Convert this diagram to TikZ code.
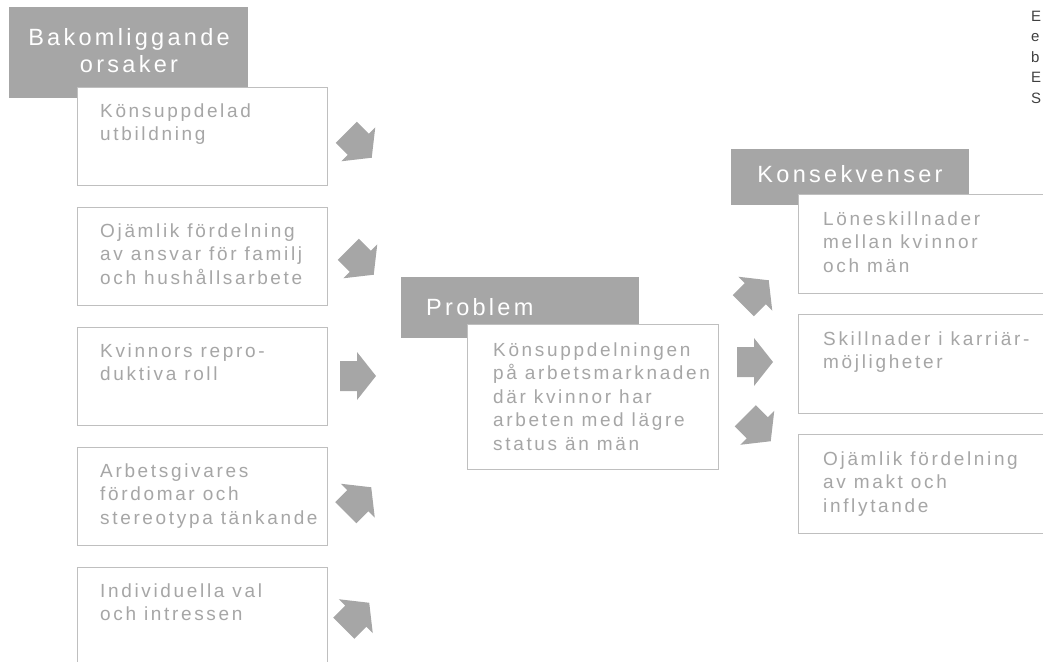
\documentclass[tikz,border=0pt]{standalone}
\usepackage{fontspec}
\setmainfont{Liberation Sans}[LetterSpace=14]
\newfontfamily\sidefont{Liberation Sans}
\definecolor{hdrgray}{HTML}{A6A6A6}
\definecolor{boxline}{HTML}{BFBFBF}
\definecolor{boxtext}{HTML}{A6A6A6}
\definecolor{sidetext}{HTML}{404040}
\tikzset{
  hdrbox/.style={fill=hdrgray, draw=none, rectangle, inner sep=0pt, anchor=north west},
  hdrtext/.style={text=white, font=\fontsize{23.5}{28}\selectfont, inner sep=0pt, align=center},
  itembox/.style={fill=white, draw=boxline, line width=1pt, rectangle, inner sep=0pt, anchor=north west},
  itemtext/.style={text=boxtext, font=\fontsize{19}{23.5}\selectfont, inner sep=0pt, align=left, anchor=base west},
  arrowfill/.style={fill=hdrgray},
  blockarrow/.pic={\fill[arrowfill] (-18,-15) -- (-1,-15) -- (-1,-24) -- (18,0) -- (-1,24) -- (-1,15) -- (-18,15) -- cycle;}
}
\begin{document}
\begin{tikzpicture}[x=1pt,y=-1pt]
\useasboundingbox (0,0) rectangle (1043,661);
\clip (0,0) rectangle (1043,661);
% headers
\node[hdrbox, minimum width=239, minimum height=91] (hA) at (9,7) {};
\node[hdrbox, minimum width=238, minimum height=61] (hB) at (401,277) {};
\node[hdrbox, minimum width=238, minimum height=56] (hC) at (731,149) {};
\node[hdrtext, anchor=base] (hAt) at (129,73) {Bakomliggande\\orsaker};
\node[hdrtext, anchor=base west] (hBt) at (426,315) {Problem};
\node[hdrtext, anchor=base] (hCt) at (850,182) {Konsekvenser};
% left boxes
\node[itembox, minimum width=250, minimum height=98] (c1) at (77,87) {};
\node[itembox, minimum width=250, minimum height=98] (c2) at (77,207) {};
\node[itembox, minimum width=250, minimum height=98] (c3) at (77,327) {};
\node[itembox, minimum width=250, minimum height=98] (c4) at (77,447) {};
\node[itembox, minimum width=250, minimum height=110] (c5) at (77,567) {};
\node[itemtext] (c1t) at (100,140.5) {Könsuppdelad\\utbildning};
\node[itemtext] (c2t) at (100,284) {Ojämlik fördelning\\av ansvar för familj\\och hushållsarbete};
\node[itemtext] (c3t) at (100,380.5) {Kvinnors repro-\\duktiva roll};
\node[itemtext] (c4t) at (100,524) {Arbetsgivares\\fördomar och\\stereotypa tänkande};
\node[itemtext] (c5t) at (100,620.5) {Individuella val\\och intressen};
% problem box
\node[itembox, minimum width=251, minimum height=145] (p) at (467,324) {};
\node[itemtext] (pt) at (493,450) {Könsuppdelningen\\på arbetsmarknaden\\där kvinnor har\\arbeten med lägre\\status än män};
% consequence boxes
\node[itembox, minimum width=260, minimum height=99] (k1) at (798,194) {};
\node[itembox, minimum width=260, minimum height=99] (k2) at (798,314) {};
\node[itembox, minimum width=260, minimum height=99] (k3) at (798,434) {};
\node[itemtext] (k1t) at (823,272) {Löneskillnader\\mellan kvinnor\\och män};
\node[itemtext] (k2t) at (823,368.5) {Skillnader i karriär-\\möjligheter};
\node[itemtext] (k3t) at (823,512) {Ojämlik fördelning\\av makt och\\inflytande};
% arrows
\pic[rotate=-45] at (359,145) {blockarrow};
\pic[rotate=-45] at (361,262) {blockarrow};
\pic at (358,376) {blockarrow};
\pic[rotate=45] at (358.5,500) {blockarrow};
\pic[rotate=45] at (356.5,615.5) {blockarrow};
\pic[rotate=45] at (756,293) {blockarrow};
\pic at (755,362) {blockarrow};
\pic[rotate=-45] at (758,428.5) {blockarrow};
% side text
\node[text=sidetext, font=\sidefont\fontsize{15}{20.5}\selectfont, inner sep=0pt, align=left, anchor=base west] (side) at (1031,103) {E\\e\\b\\E\\S};
\end{tikzpicture}
\end{document}
